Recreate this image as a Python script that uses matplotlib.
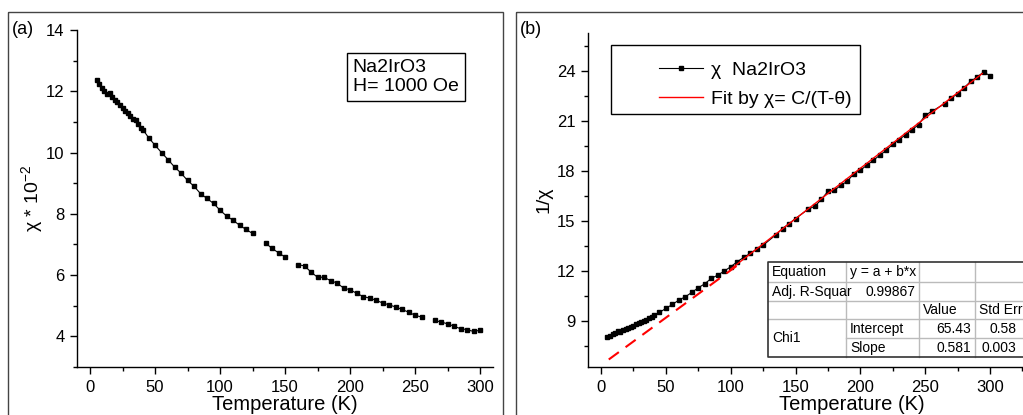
import matplotlib.pyplot as plt
import numpy as np

plt.rcParams['font.family'] = ['Liberation Sans', 'DejaVu Sans']
plt.rcParams['mathtext.fontset'] = 'custom'
plt.rcParams['mathtext.rm'] = 'Liberation Sans'

# panel (a): chi * 10^-2 against temperature
T_a = [5, 7, 9, 11, 13, 15, 17, 19, 21, 23, 25, 27, 29, 31, 33, 35, 37, 39, 41,
       45, 50, 55, 60, 65, 70, 75, 80, 85, 90, 95, 100, 105, 110, 115, 120, 125,
       135, 140, 145, 150,
       160, 165, 170, 175, 180, 185, 190, 195, 200, 205, 210, 215, 220, 225, 230,
       235, 240, 245, 250, 255,
       265, 270, 275, 280, 285, 290, 295, 300]
chi_a = [12.37, 12.25, 12.12, 12.0, 11.92, 11.95, 11.8, 11.72, 11.65, 11.55, 11.45,
         11.36, 11.28, 11.2, 11.1, 11.06, 10.92, 10.8, 10.73,
         10.49, 10.24, 10.0, 9.77, 9.53, 9.33, 9.09, 8.90, 8.66, 8.50, 8.34, 8.12,
         7.93, 7.79, 7.63, 7.49, 7.36,
         7.05, 6.87, 6.73, 6.59,
         6.34, 6.30, 6.10, 5.93, 5.93, 5.82, 5.74, 5.58, 5.52, 5.41, 5.30, 5.25,
         5.18, 5.09, 5.03, 4.96, 4.88, 4.79, 4.69, 4.63,
         4.52, 4.47, 4.41, 4.33, 4.25, 4.22, 4.16, 4.20]

# panel (b): 1/chi against temperature
T_b = T_a
inv_chi = [8.06, 8.12, 8.20, 8.30, 8.38, 8.34, 8.46, 8.52, 8.58, 8.66, 8.73, 8.80,
           8.86, 8.93, 9.00, 9.04, 9.16, 9.26, 9.34,
           9.52, 9.76, 10.0, 10.26, 10.46, 10.72, 11.0, 11.24, 11.56, 11.76, 12.0,
           12.26, 12.56, 12.82, 13.06, 13.31, 13.55,
           14.19, 14.55, 14.85, 15.15,
           15.73, 15.89, 16.31, 16.79, 16.85, 17.15, 17.39, 17.85, 18.05, 18.35,
           18.65, 18.95, 19.25, 19.61, 19.89, 20.19, 20.49, 20.79, 21.35, 21.58,
           22.04, 22.40, 22.62, 23.0, 23.38, 23.64, 23.94, 23.72]

# Curie-Weiss fit line: dashed extrapolation and solid fitted range
fit_dash_T = [6, 107]
fit_dash_y = [6.70, 12.45]
fit_solid_T = [100, 294]
fit_solid_y = [12.12, 23.85]

# fit report table
table_rows = [["Equation", "y = a + b*x", "", ""],
              ["Adj. R-Squar", "0.99867", "", ""],
              ["", "", "Value", "Std Error"],
              ["Chi1", "Intercept", "65.43", "0.58"],
              ["", "Slope", "0.581", "0.003"]]

W, H = 1023, 415
fig = plt.figure(figsize=(W / 100, H / 100), dpi=100)


def box(l, t, r, b):
    return [l / W, 1 - b / H, (r - l) / W, (b - t) / H]


def style(ax):
    for s in ['top', 'right']:
        ax.spines[s].set_visible(False)
    for s in ['left', 'bottom']:
        ax.spines[s].set_linewidth(1.0)
    ax.tick_params(which='major', direction='out', length=5, width=1.0,
                   labelsize=12, pad=4)
    ax.tick_params(which='minor', direction='out', length=3, width=1.0)


# ---- (a)
ax1 = fig.add_axes(box(77, 30, 493, 367))
T = np.array(T_a)
cuts = np.where(np.diff(T) > 6)[0] + 1
for seg in np.split(np.arange(len(T)), cuts):
    ax1.plot(T[seg], np.array(chi_a)[seg], color='black', lw=0.8,
             marker='s', ms=2.4)
ax1.set_xlim(-10, 310)
ax1.set_ylim(3, 14)
ax1.set_xticks(range(0, 301, 50))
ax1.set_xticks(range(25, 301, 50), minor=True)
ax1.set_yticks(range(4, 15, 2))
ax1.set_yticks(range(3, 14, 2), minor=True)
style(ax1)
ax1.set_xlabel("Temperature (K)", fontsize=14.5)
ax1.xaxis.set_label_coords(0.5, -0.083)
ax1.set_ylabel("χ * 10$^{-2}$", fontsize=14, labelpad=0)
ax1.text(0.663, 0.915, "Na2IrO3\nH= 1000 Oe", transform=ax1.transAxes,
         fontsize=14, va='top', ha='left', linespacing=1.2,
         bbox=dict(boxstyle='square,pad=0.3', fc='white', ec='black', lw=1))

# ---- (b)
ax2 = fig.add_axes(box(588, 32.7, 588 + 350 * 1.297, 367))
ax2.plot(T_b, inv_chi, color='black', lw=0.8, marker='s', ms=2.4,
         label="χ  Na2IrO3")
ax2.plot(fit_dash_T, fit_dash_y, color='red', lw=1.5, ls=(0, (6, 4)), zorder=3)
ax2.plot(fit_solid_T, fit_solid_y, color='red', lw=1.0, zorder=3,
         label="Fit by χ= C/(T-θ)")
ax2.set_xlim(-10, 340)
ax2.set_ylim(6.25, 26.3)
ax2.set_xticks(range(0, 301, 50))
ax2.set_xticks(range(25, 326, 50), minor=True)
ax2.set_yticks(range(9, 25, 3))
ax2.set_yticks(np.arange(7.5, 26, 3), minor=True)
style(ax2)
ax2.set_xlabel("Temperature (K)", fontsize=14.5)
ax2.xaxis.set_label_coords((852 - 588) / (350 * 1.297), -0.083)
ax2.set_ylabel("1/χ", fontsize=14, labelpad=3)
ax2.legend(loc='upper left', bbox_to_anchor=((645 - 588) / (350 * 1.297), 0.955),
           frameon=False, fontsize=14, numpoints=1, handlelength=2.3,
           handletextpad=0.4, labelspacing=0.6, borderpad=0.2)

# overlay in pixel coordinates for frames, panel tags and table
ov = fig.add_axes([0, 0, 1, 1])
ov.set_xlim(0, W)
ov.set_ylim(H, 0)
ov.axis('off')
ov.add_patch(plt.Rectangle((8, 12), 495, 420, fill=False, ec='#444444', lw=1.0))
ov.add_patch(plt.Rectangle((516, 12), 520, 420, fill=False, ec='#444444', lw=1.0))
ov.add_patch(plt.Rectangle((611, 45), 249, 69, fill=False, ec='black', lw=1.0))
ov.text(12, 30, "(a)", fontsize=13, va='center', ha='left')
ov.text(520, 30, "(b)", fontsize=13, va='center', ha='left')

# table
col_x = [768, 846, 919, 975, 1040]
row_y = [262, 282, 301, 319, 338, 357]
ov.add_patch(plt.Rectangle((768, 262), 280, 95, fc='white', ec='none', zorder=1))
for x in col_x[1:4]:
    ov.plot([x, x], [row_y[0], row_y[-1]], color='#bbbbbb', lw=1, zorder=2)
for i, y in enumerate(row_y[1:-1]):
    x0 = col_x[1] if i == 3 else col_x[0]
    ov.plot([x0, 1030], [y, y], color='#bbbbbb', lw=1, zorder=2)
ov.plot([1030, 768, 768, 1030], [262, 262, 357, 357], color='#333333',
        lw=1.2, zorder=3)
align = [['l', 'l', 'r', 'r'], ['l', 'r', 'r', 'r'], ['l', 'l', 'l', 'l'],
         ['l', 'l', 'r', 'r'], ['l', 'l', 'r', 'r']]
right_edge = [846, 915, 971, 1016]
for r, row in enumerate(table_rows):
    for c, txt in enumerate(row):
        if not txt:
            continue
        yc = (row_y[r] + row_y[r + 1]) / 2
        if r == 3 and c == 0:
            yc = row_y[4]
        if align[r][c] == 'l':
            ov.text(col_x[c] + 4, yc, txt, fontsize=10, va='center', ha='left',
                    zorder=4)
        else:
            ov.text(right_edge[c], yc, txt, fontsize=10, va='center',
                    ha='right', zorder=4)

fig.savefig('out.png', dpi=100)
